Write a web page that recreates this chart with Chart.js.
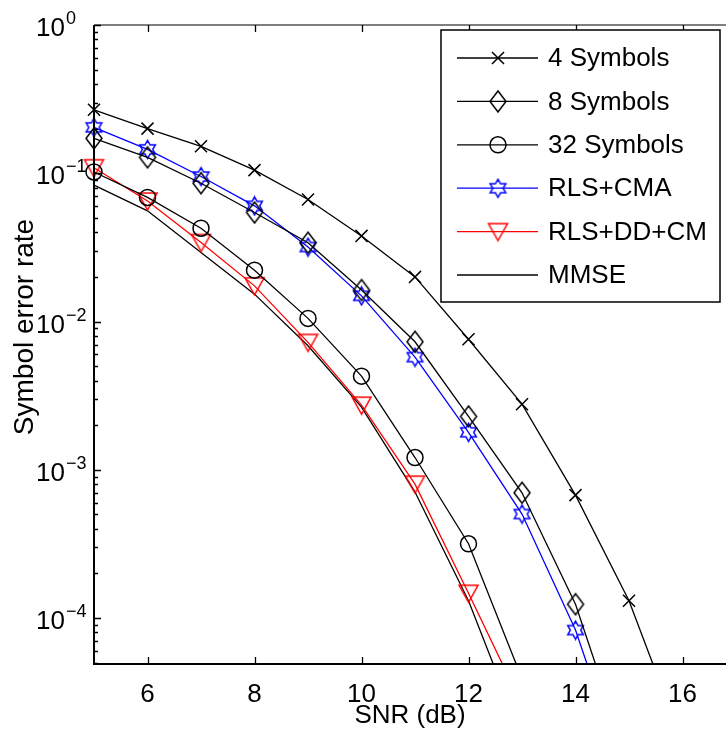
<!DOCTYPE html>
<html lang="en">
<head>
<meta charset="UTF-8">
<title>Symbol error rate vs SNR</title>
<script src="https://cdn.jsdelivr.net/npm/chart.js@4.4.1/dist/chart.umd.min.js"></script>
<style>body{margin:0;background:#fff}</style>
</head>
<body>
<div style="width:726px;height:737px;position:relative"><canvas id="ser"></canvas></div>
<script>
// SNR in dB (series start at 5 dB, each one has one point below the visible range)
const snr = [5, 6, 7, 8, 9, 10, 11, 12, 13, 14, 15, 16];
const sym4    = [0.268, 0.200, 0.152, 0.105, 0.0666, 0.0378, 0.0200, 0.0076, 0.00277, 6.75e-4, 1.31e-4, 1.45e-5];
const sym8    = [0.172, 0.128, 0.0857, 0.0544, 0.0340, 0.0163, 0.0073, 0.00229, 7.0e-4, 1.24e-4, 1.03e-5];
const sym32   = [0.102, 0.0687, 0.0426, 0.0222, 0.0105, 0.00428, 0.00121, 3.17e-4, 3.9e-5];
const rlsCma  = [0.204, 0.145, 0.0951, 0.0603, 0.0318, 0.0149, 0.00575, 0.00179, 5.03e-4, 8.3e-5, 7.2e-6];
const rlsDdCm = [0.109, 0.065, 0.0341, 0.0174, 0.00723, 0.00273, 8.0e-4, 1.47e-4, 2.6e-5];
const mmse    = [0.0831, 0.0558, 0.0292, 0.0153, 0.00686, 0.00265, 7.08e-4, 1.31e-4, 1.56e-5];
const labels  = ['4 Symbols', '8 Symbols', '32 Symbols', 'RLS+CMA', 'RLS+DD+CM', 'MMSE'];
const xTicks  = [6, 8, 10, 12, 14, 16];
const yDecades = [0, -1, -2, -3, -4];

const FONT = '"Liberation Sans", Arial, sans-serif';
const LW = 1.5;

// small canvases used as marker shapes
function marker(w, h, color, path) {
    const c = document.createElement('canvas');
    c.width = w; c.height = h;
    const g = c.getContext('2d');
    g.strokeStyle = color;
    g.lineWidth = LW;
    g.beginPath();
    path(g, w / 2, h / 2);
    g.stroke();
    return c;
}
const diamond = marker(20, 25, '#000', (g, cx, cy) => {
    g.moveTo(cx, cy - 10.5); g.lineTo(cx + 8, cy); g.lineTo(cx, cy + 10.5); g.lineTo(cx - 8, cy); g.closePath();
});
const hexagram = marker(21, 21, '#0000ff', (g, cx, cy) => {
    const R = 9, r = R / Math.sqrt(3);
    for (let i = 0; i < 12; i++) {
        const a = -Math.PI / 2 + i * Math.PI / 6;
        const rr = i % 2 ? r : R;
        const px = cx + rr * Math.cos(a), py = cy + rr * Math.sin(a);
        if (i === 0) g.moveTo(px, py); else g.lineTo(px, py);
    }
    g.closePath();
});
const triDown = marker(23, 22, '#ff0000', (g, cx, cy) => {
    g.moveTo(cx - 9.5, cy - 8); g.lineTo(cx + 9.5, cy - 8); g.lineTo(cx, cy + 9); g.closePath();
});

function pts(vals) {
    return vals.map((v, i) => ({x: snr[i], y: v}));
}
const clipBox = {left: 14, top: 0, right: 0, bottom: 0};

function series(label, vals, color, style, radius) {
    return {
        label: label,
        data: pts(vals),
        borderColor: color,
        borderWidth: 1.3,
        pointStyle: style,
        pointRadius: radius,
        pointBorderColor: color,
        pointBorderWidth: LW,
        pointBackgroundColor: 'rgba(0,0,0,0)',
        tension: 0,
        clip: clipBox
    };
}

// axes, ticks, labels and legend in the MATLAB look
const axesPlugin = {
    id: 'matlabAxes',
    afterDraw(chart) {
        const {ctx, chartArea: a, scales: {x, y}} = chart;
        ctx.save();
        ctx.strokeStyle = '#000';
        ctx.fillStyle = '#000';

        ctx.lineWidth = 2;
        ctx.beginPath();
        ctx.moveTo(a.left, a.top); ctx.lineTo(a.left, a.bottom); ctx.lineTo(a.right, a.bottom);
        ctx.stroke();
        ctx.lineWidth = 1.2;
        ctx.beginPath();
        ctx.moveTo(a.left, a.top); ctx.lineTo(a.right, a.top);
        ctx.stroke();

        ctx.lineWidth = 1.3;
        ctx.beginPath();
        xTicks.forEach(v => {
            const px = Math.round(x.getPixelForValue(v)) + 0.5;
            ctx.moveTo(px, a.bottom); ctx.lineTo(px, a.bottom - 7);
            ctx.moveTo(px, a.top); ctx.lineTo(px, a.top + 7);
        });
        for (let e = -5; e <= 0; e++) {
            for (let m = 1; m <= 9; m++) {
                const v = m * Math.pow(10, e);
                if (v < y.min || v > y.max * 1.0001) continue;
                const py = Math.round(y.getPixelForValue(v)) + 0.5;
                ctx.moveTo(a.left, py); ctx.lineTo(a.left + (m === 1 ? 7 : 4), py);
            }
        }
        ctx.stroke();

        // tick labels
        ctx.textBaseline = 'alphabetic';
        ctx.textAlign = 'center';
        ctx.font = '26px ' + FONT;
        xTicks.forEach(v => ctx.fillText(String(v), x.getPixelForValue(v), 702));

        ctx.textAlign = 'left';
        yDecades.forEach(e => {
            const py = y.getPixelForValue(Math.pow(10, e));
            ctx.font = '26px ' + FONT;
            ctx.fillText('10', 36, py + 11);
            const w = ctx.measureText('10').width;
            ctx.font = '18px ' + FONT;
            ctx.fillText(e === 0 ? '0' : '\u2212' + (-e), 36 + w + 1, py - 1);
        });

        // axis titles
        ctx.font = '26px ' + FONT;
        ctx.textAlign = 'center';
        ctx.fillText('SNR (dB)', 410, 723);
        ctx.save();
        ctx.font = '28px ' + FONT;
        ctx.translate(33, 327);
        ctx.rotate(-Math.PI / 2);
        ctx.fillText('Symbol error rate', 0, 0);
        ctx.restore();

        // legend
        const lx = 441, ly = 30, lw = 279, lh = 272;
        ctx.fillStyle = '#fff';
        ctx.fillRect(lx, ly, lw, lh);
        ctx.lineWidth = 1.5;
        ctx.strokeRect(lx, ly, lw, lh);
        const ds = chart.data.datasets;
        ds.forEach((d, i) => {
            const ry = 58 + i * 43.4;
            ctx.strokeStyle = d.borderColor;
            ctx.lineWidth = 1.3;
            ctx.beginPath();
            ctx.moveTo(457, ry); ctx.lineTo(538, ry);
            ctx.stroke();
            ctx.lineWidth = LW;
            const s = d.pointStyle;
            if (s instanceof HTMLCanvasElement) {
                ctx.drawImage(s, 498 - s.width / 2, ry - s.height / 2);
            } else if (s === 'crossRot') {
                const o = d.pointRadius * Math.SQRT1_2;
                ctx.beginPath();
                ctx.moveTo(498 - o, ry - o); ctx.lineTo(498 + o, ry + o);
                ctx.moveTo(498 - o, ry + o); ctx.lineTo(498 + o, ry - o);
                ctx.stroke();
            } else if (s === 'circle') {
                ctx.beginPath();
                ctx.arc(498, ry, d.pointRadius, 0, Math.PI * 2);
                ctx.stroke();
            }
            ctx.fillStyle = '#000';
            ctx.textAlign = 'left';
            ctx.textBaseline = 'middle';
            ctx.font = '26px ' + FONT;
            ctx.fillText(d.label, 548, ry + 1);
        });
        ctx.restore();
    }
};

new Chart(document.getElementById('ser'), {
    type: 'line',
    data: {
        datasets: [
            series(labels[0], sym4, '#000', 'crossRot', 8.5),
            series(labels[1], sym8, '#000', diamond, 10),
            series(labels[2], sym32, '#000', 'circle', 8),
            series(labels[3], rlsCma, '#0000ff', hexagram, 10),
            series(labels[4], rlsDdCm, '#ff0000', triDown, 10),
            series(labels[5], mmse, '#000', 'circle', 0)
        ]
    },
    options: {
        responsive: true,
        maintainAspectRatio: false,
        animation: false,
        events: [],
        layout: {autoPadding: false, padding: {top: 25, left: 0, right: 0, bottom: 0}},
        plugins: {legend: {display: false}, tooltip: {enabled: false}},
        scales: {
            x: {
                type: 'linear',
                min: 5,
                max: 16.813,
                grid: {display: false},
                border: {display: false},
                ticks: {display: false},
                afterFit: s => { s.height = 73; }
            },
            y: {
                type: 'logarithmic',
                min: 4.9e-5,
                max: 1,
                grid: {display: false},
                border: {display: false},
                ticks: {display: false},
                afterFit: s => { s.width = 94; }
            }
        }
    },
    plugins: [axesPlugin]
});
</script>
</body>
</html>
